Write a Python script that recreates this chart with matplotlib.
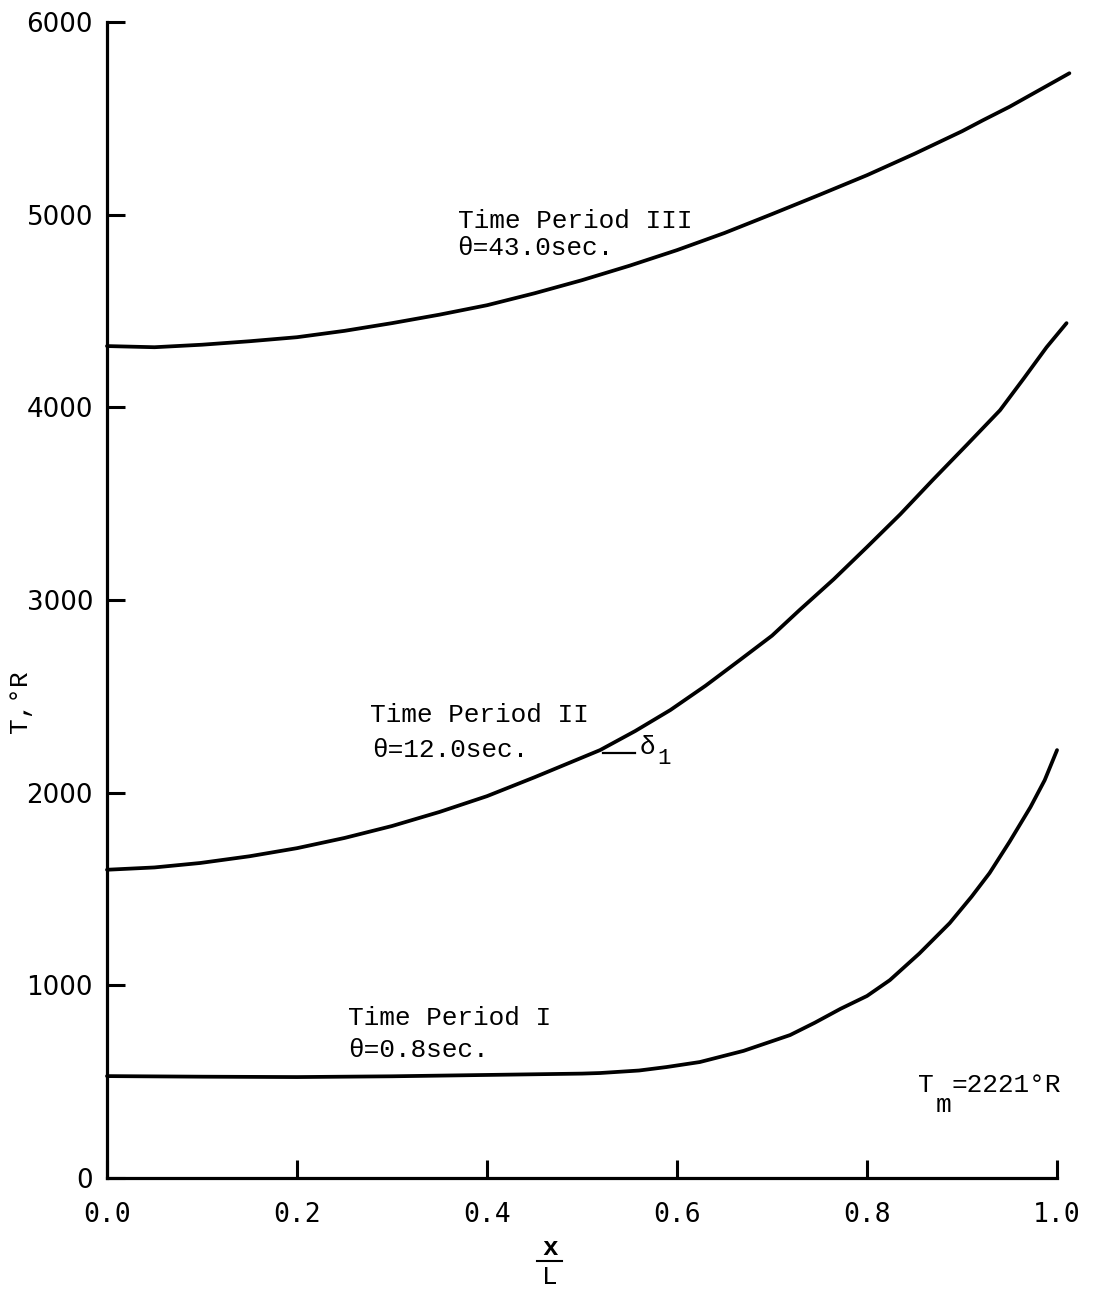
import matplotlib
matplotlib.use("Agg")
import matplotlib.pyplot as plt

# ---- data ----
x_I = [0.0, 0.1, 0.2, 0.3, 0.4, 0.5, 0.519, 0.56, 0.589, 0.624, 0.67, 0.719,
       0.745, 0.772, 0.80, 0.824, 0.855, 0.887, 0.91, 0.929, 0.95, 0.972, 0.987, 1.0]
T_I = [529, 526, 524, 528, 535, 542, 545, 558, 576, 602, 660, 742,
       806, 878, 945, 1027, 1165, 1323, 1460, 1583, 1745, 1925, 2065, 2221]

x_II = [0.0, 0.05, 0.098, 0.15, 0.2, 0.25, 0.3, 0.35, 0.4, 0.45, 0.519, 0.556,
        0.593, 0.63, 0.666, 0.70, 0.729, 0.765, 0.8, 0.835, 0.869, 0.905, 0.94,
        0.965, 0.989, 1.01]
T_II = [1600, 1612, 1635, 1670, 1712, 1765, 1827, 1900, 1982, 2080, 2221, 2320,
        2429, 2555, 2688, 2815, 2948, 3108, 3275, 3445, 3622, 3805, 3985,
        4150, 4312, 4437]

x_III = [0.0, 0.05, 0.1, 0.15, 0.2, 0.25, 0.3, 0.35, 0.4, 0.45, 0.5, 0.55, 0.6,
         0.65, 0.7, 0.75, 0.8, 0.85, 0.9, 0.922, 0.95, 1.0, 1.013]
T_III = [4318, 4312, 4325, 4343, 4364, 4397, 4437, 4481, 4530, 4592, 4660, 4735,
         4816, 4905, 5003, 5103, 5205, 5316, 5433, 5490, 5560, 5698, 5734]

x_ticks = [0.0, 0.2, 0.4, 0.6, 0.8, 1.0]
x_tick_labels = ["0.0", "0.2", "0.4", "0.6", "0.8", "1.0"]
y_ticks = [0, 1000, 2000, 3000, 4000, 5000, 6000]
y_tick_labels = ["0", "1000", "2000", "3000", "4000", "5000", "6000"]

labels_period = ["Time Period I", "Time Period II", "Time Period III"]
labels_theta = ["\u03b8=0.8sec.", "\u03b8=12.0sec.", "\u03b8=43.0sec."]
T_melt = 2221

MONO = ["Liberation Mono", "DejaVu Sans Mono"]
FS = 18.8

fig = plt.figure(figsize=(11.02, 12.90), dpi=100)
ax = fig.add_axes([0.0971, 0.0868, 0.9592 - 0.0971, 0.98295 - 0.0868])

for xs, ts in [(x_I, T_I), (x_II, T_II), (x_III, T_III)]:
    ax.plot(xs, ts, color="black", lw=2.7, clip_on=False,
            solid_capstyle="round", solid_joinstyle="round")

ax.set_xlim(0, 1.0)
ax.set_ylim(0, 6000)

for s in ["top", "right"]:
    ax.spines[s].set_visible(False)
for s in ["left", "bottom"]:
    ax.spines[s].set_linewidth(2.3)

ax.set_xticks(x_ticks)
ax.set_xticklabels(x_tick_labels, fontfamily="DejaVu Sans Mono", fontsize=19)
ax.set_yticks(y_ticks)
ax.set_yticklabels(y_tick_labels, fontfamily="DejaVu Sans", fontsize=18.8)
ax.tick_params(axis="both", direction="in", length=13, width=2.2)
ax.tick_params(axis="x", pad=17)
ax.tick_params(axis="y", pad=10)

# annotations
ax.text(0.369, 4966, labels_period[2], fontfamily=MONO, fontsize=FS, va="center", ha="left")
ax.text(0.369, 4826, labels_theta[2], fontfamily=MONO, fontsize=FS, va="center", ha="left")
ax.text(0.277, 2403, labels_period[1], fontfamily=MONO, fontsize=FS, va="center", ha="left")
ax.text(0.279, 2221, labels_theta[1], fontfamily=MONO, fontsize=FS, va="center", ha="left")
ax.text(0.254, 830, labels_period[0], fontfamily=MONO, fontsize=FS, va="center", ha="left")
ax.text(0.254, 664, labels_theta[0], fontfamily=MONO, fontsize=FS, va="center", ha="left")

# delta_1 marker at melting temperature
ax.plot([0.522, 0.556], [2205, 2205], color="black", lw=1.6)
ax.text(0.561, 2237, "\u03b4", fontfamily=MONO, fontsize=FS, va="center", ha="left")
ax.text(0.579, 2180, "1", fontfamily=MONO, fontsize=16, va="center", ha="left")

# T_m label
ax.text(0.854, 483, "T", fontfamily=MONO, fontsize=FS, va="center", ha="left")
ax.text(0.872, 379, "m", fontfamily=MONO, fontsize=FS, va="center", ha="left")
ax.text(0.889, 483, "=%d\u00b0R" % T_melt, fontfamily=MONO, fontsize=FS, va="center", ha="left")

# axis labels
ax.text(0.466, -363, "x", fontfamily=MONO, fontsize=FS, fontweight="bold", ha="center", va="center")
ax.plot([0.453, 0.479], [-433, -433], color="black", lw=1.5, clip_on=False)
ax.text(0.466, -514, "L", fontfamily=MONO, fontsize=FS, ha="center", va="center")
fig.text(20 / 1102, 1 - 702 / 1290, "T,\u00b0R", fontfamily=MONO, fontsize=FS,
         rotation=90, ha="center", va="center")

fig.savefig("out.png", dpi=100)
